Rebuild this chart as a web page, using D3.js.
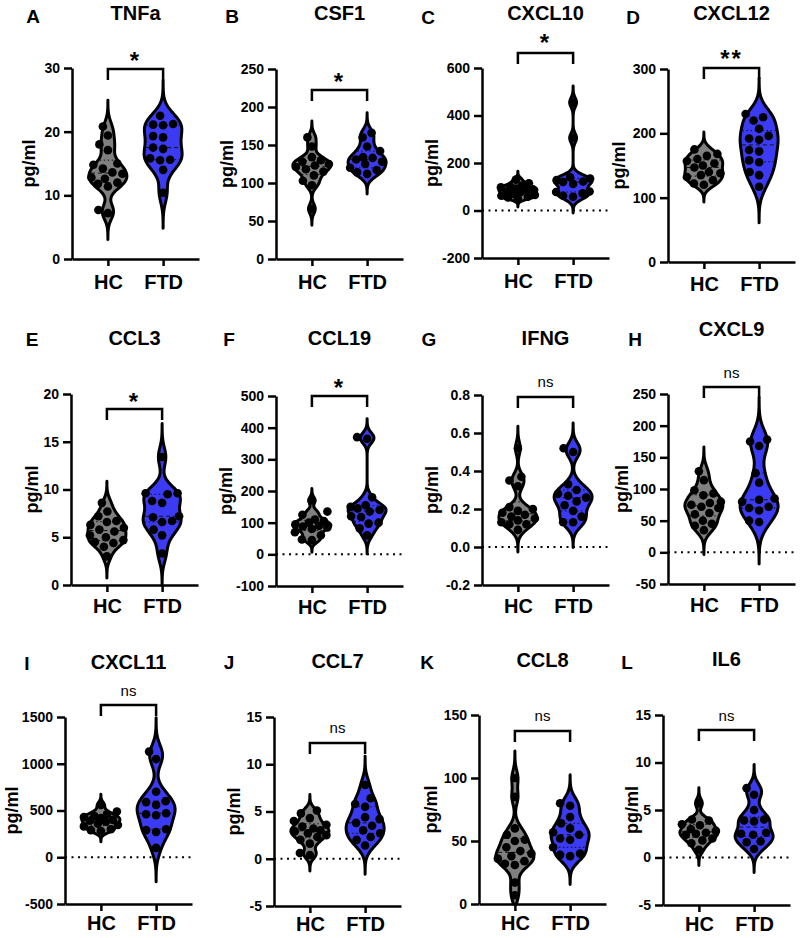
<!DOCTYPE html>
<html>
<head>
<meta charset="utf-8">
<script src="https://cdn.jsdelivr.net/npm/d3@7"></script>
<style>
  body { margin: 0; background: #fff; }
</style>
</head>
<body>
<svg id="chart" width="800" height="938"></svg>
<script>
// Datos
const groups = ['HC', 'FTD'];
const panelLetters = ['A', 'B', 'C', 'D', 'E', 'F', 'G', 'H', 'I', 'J', 'K', 'L'];
const analytes = ['TNFa', 'CSF1', 'CXCL10', 'CXCL12', 'CCL3', 'CCL19', 'IFNG', 'CXCL9', 'CXCL11', 'CCL7', 'CCL8', 'IL6'];
const significance = ['*', '*', '*', '**', '*', '*', 'ns', 'ns', 'ns', 'ns', 'ns', 'ns'];

const yTickValues = [
  [0, 10, 20, 30],
  [0, 50, 100, 150, 200, 250],
  [-200, 0, 200, 400, 600],
  [0, 100, 200, 300],
  [0, 5, 10, 15, 20],
  [-100, 0, 100, 200, 300, 400, 500],
  [-0.2, 0, 0.2, 0.4, 0.6, 0.8],
  [-50, 0, 50, 100, 150, 200, 250],
  [-500, 0, 500, 1000, 1500],
  [-5, 0, 5, 10, 15],
  [0, 50, 100, 150],
  [-5, 0, 5, 10, 15]
];

const hcValues = [
  [20.8, 19.4, 18.0, 17.1, 15.0, 14.8, 14.2, 13.6, 13.4, 12.8, 12.6, 12.0, 11.8, 11.4, 7.7, 7.2],
  [160, 148, 134, 130, 128, 125, 123, 121, 118, 115, 110, 103, 97, 66],
  [130, 115, 105, 100, 98, 92, 88, 85, 80, 78, 70, 65, 62, 58, 55, 50],
  [175, 168, 165, 160, 157, 153, 150, 147, 140, 138, 135, 132, 127, 122, 120],
  [8.6, 7.7, 7.2, 6.7, 6.6, 6.3, 6.0, 5.8, 5.6, 5.2, 5.0, 4.7, 4.5, 4.4, 4.0, 3.0],
  [170, 135, 125, 110, 105, 100, 95, 90, 88, 85, 80, 70, 60, 47, 45],
  [0.52, 0.37, 0.35, 0.32, 0.21, 0.20, 0.19, 0.18, 0.17, 0.16, 0.15, 0.14, 0.13, 0.12, 0.12, 0.09],
  [128, 114, 98, 93, 90, 80, 78, 75, 72, 70, 62, 60, 50, 45, 42, 35],
  [560, 490, 460, 440, 430, 420, 400, 390, 380, 360, 345, 330, 300, 290, 280],
  [5.1, 4.8, 4.3, 4.0, 3.6, 3.4, 3.2, 3.0, 2.9, 2.7, 2.5, 2.3, 2.0, 1.6, 0.6, 0.4],
  [100, 85, 60, 55, 51, 50, 45, 42, 40, 38, 36, 34, 32, 31, 17, 7],
  [5.7, 4.0, 3.9, 3.5, 3.4, 3.0, 2.8, 2.6, 2.5, 2.4, 2.0, 1.8, 1.5, 0.8]
];

const ftdValues = [
  [22.5, 21.2, 21.1, 21.0, 19.3, 19.1, 17.5, 17.3, 15.8, 15.6, 15.5, 14.0, 10.4],
  [166, 160, 148, 142, 134, 133, 131, 128, 125, 120, 117, 114, 112],
  [455, 305, 140, 135, 128, 122, 120, 112, 80, 78, 72, 62, 58],
  [230, 225, 220, 207, 196, 192, 190, 174, 172, 158, 155, 140, 135, 117],
  [13.4, 9.6, 9.6, 9.5, 8.8, 8.6, 7.2, 7.1, 6.7, 6.6, 5.8, 5.2, 3.3],
  [370, 365, 180, 155, 150, 145, 140, 135, 120, 118, 100, 97, 82, 60],
  [0.52, 0.50, 0.33, 0.30, 0.28, 0.27, 0.26, 0.24, 0.22, 0.19, 0.16, 0.13, 0.13],
  [178, 175, 168, 125, 110, 85, 83, 80, 72, 70, 66, 50, 48],
  [1130, 1050, 700, 600, 590, 560, 470, 460, 450, 300, 290, 270, 100],
  [7.8, 6.4, 5.8, 5.5, 4.4, 4.2, 3.8, 3.5, 3.0, 2.7, 2.3, 2.0, 1.4],
  [80, 78, 69, 64, 60, 57, 55, 52, 51, 45, 40, 39, 38],
  [7.3, 6.6, 5.0, 4.0, 3.9, 3.8, 2.6, 2.5, 2.4, 1.7, 1.6, 0.9]
];

// Posiciones de cada panel (px)
const layout = [
  { x0: 72,  top: 68,  bottom: 259, letterX: 33,  letterY: 16,  titleY: 13,  labelX: 30,  bracketY: 69,  sigY: 55,  xPad: 9 },
  { x0: 276, top: 69,  bottom: 259, letterX: 232, letterY: 16,  titleY: 13,  labelX: 228, bracketY: 90,  sigY: 76,  xPad: 9 },
  { x0: 482, top: 68,  bottom: 258, letterX: 428, letterY: 17,  titleY: 13,  labelX: 433, bracketY: 53,  sigY: 37,  xPad: 9 },
  { x0: 668, top: 69,  bottom: 262, letterX: 633, letterY: 17,  titleY: 13,  labelX: 620, bracketY: 68,  sigY: 53,  xPad: 8 },
  { x0: 71,  top: 394, bottom: 585, letterX: 32,  letterY: 339, titleY: 338, labelX: 33,  bracketY: 409, sigY: 396, xPad: 7 },
  { x0: 276, top: 396, bottom: 586, letterX: 229, letterY: 339, titleY: 338, labelX: 227, bracketY: 396, sigY: 382, xPad: 7 },
  { x0: 482, top: 395, bottom: 585, letterX: 429, letterY: 339, titleY: 338, labelX: 433, bracketY: 397, sigY: 383, xPad: 7 },
  { x0: 668, top: 394, bottom: 584, letterX: 635, letterY: 339, titleY: 329, labelX: 623, bracketY: 387, sigY: 374, xPad: 7 },
  { x0: 65,  top: 717, bottom: 904, letterX: 27,  letterY: 663, titleY: 662, labelX: 13,  bracketY: 705, sigY: 692, xPad: 5 },
  { x0: 274, top: 717, bottom: 906, letterX: 229, letterY: 662, titleY: 661, labelX: 235, bracketY: 743, sigY: 729, xPad: 4 },
  { x0: 479, top: 715, bottom: 904, letterX: 427, letterY: 662, titleY: 660, labelX: 432, bracketY: 731, sigY: 717, xPad: 5 },
  { x0: 663, top: 715, bottom: 905, letterX: 627, letterY: 662, titleY: 659, labelX: 633, bracketY: 730, sigY: 717, xPad: 5 }
];

const FONT = 'Arial, "Liberation Sans", Helvetica, sans-serif';
const colores = { HC: '#808080', FTD: '#3b3bf4' };
const anchoEje = 127;
const medioAncho = 19;
const radio = 4.3;

const svg = d3.select('#chart').style('font-family', FONT);
svg.append('rect').attr('width', 800).attr('height', 938).attr('fill', '#fff');

// Ancho de banda (Silverman)
function anchoBanda(vals) {
  const sd = d3.deviation(vals);
  const iqr = d3.quantile(vals, 0.75) - d3.quantile(vals, 0.25);
  const s = Math.min(sd, iqr > 0 ? iqr / 1.34 : sd);
  return 0.9 * s * Math.pow(vals.length, -0.2);
}

// Densidad gaussiana
function densidad(vals, bw, lo, hi) {
  return d3.range(0, 141).map(k => {
    const t = lo + (hi - lo) * k / 140;
    return [t, d3.mean(vals, v => Math.exp(-0.5 * ((t - v) / bw) ** 2))];
  });
}

// Enjambre con límite de ancho (si no cabe, se solapa)
function enjambre(vals, yScale, D, maxOff) {
  const puestos = [];
  const cands = d3.range(-maxOff, maxOff + 0.01, 0.5).sort((a, b) => Math.abs(a) - Math.abs(b));
  return vals.map(v => {
    const py = yScale(v);
    let mejor = 0, mejorDist = -1;
    for (const c of cands) {
      const dmin = puestos.length ? d3.min(puestos, p => Math.hypot(p[0] - c, p[1] - py)) : Infinity;
      if (dmin >= D) { mejor = c; mejorDist = dmin; break; }
      if (dmin > mejorDist + 0.5) { mejor = c; mejorDist = dmin; }
    }
    puestos.push([mejor, py]);
    return [mejor, py, v];
  });
}

analytes.forEach((nombre, i) => {
  const L = layout[i];
  const ticks = yTickValues[i];
  const dom = d3.extent(ticks);
  const y = d3.scaleLinear().domain(dom).range([L.bottom, L.top]);
  const x = d3.scalePoint().domain(groups).range([L.x0, L.x0 + anchoEje]).padding(0.65);
  const g = svg.append('g');
  const fmt = ticks.some(t => !Number.isInteger(t)) ? (d => d3.format('.1f')(d).replace('\u2212', '-')) : (d => String(d));

  // Letra y título
  g.append('text').attr('x', L.letterX).attr('y', L.letterY).attr('dy', '0.36em')
    .attr('text-anchor', 'middle').attr('font-size', 19).attr('font-weight', 'bold').text(panelLetters[i]);
  g.append('text').attr('x', L.x0 + anchoEje / 2).attr('y', L.titleY).attr('dy', '0.36em')
    .attr('text-anchor', 'middle').attr('font-size', 20).attr('font-weight', 'bold').text(nombre);

  // Etiqueta eje y
  g.append('text').attr('transform', `translate(${L.labelX},${(L.top + L.bottom) / 2}) rotate(-90)`)
    .attr('dy', '0.26em').attr('text-anchor', 'middle').attr('font-size', 18).attr('font-weight', 'bold').text('pg/ml');

  // Línea punteada en cero
  if (dom[0] < 0) {
    g.append('line').attr('x1', L.x0).attr('x2', L.x0 + anchoEje).attr('y1', y(0)).attr('y2', y(0))
      .attr('stroke', '#000').attr('stroke-width', 2).attr('stroke-dasharray', '2,4.5');
  }

  // Violines
  [hcValues[i], ftdValues[i]].forEach((datos, gi) => {
    const grupo = groups[gi];
    const cx = x(grupo);
    const vals = datos.slice().sort(d3.ascending);
    const bw = anchoBanda(vals);
    const lo = Math.max(dom[0], vals[0] - 3 * bw);
    const hi = Math.min(dom[1], vals[vals.length - 1] + 3 * bw);
    const dens = densidad(vals, 0.85 * bw, lo, hi);
    const w = d3.scaleLinear().domain([0, d3.max(dens, d => d[1])]).range([0, medioAncho]);

    const area = d3.area()
      .y(d => y(d[0]))
      .x0(d => cx - w(d[1]))
      .x1(d => cx + w(d[1]))
      .curve(d3.curveBasis);

    g.append('path').attr('d', area(dens))
      .attr('fill', colores[grupo]).attr('stroke', '#000').attr('stroke-width', 3).attr('stroke-linejoin', 'round');

    // Mediana y cuartiles
    const anchoEn = t => {
      const k = d3.bisector(d => d[0]).left(dens, t);
      const a = dens[Math.max(0, k - 1)], b = dens[Math.min(dens.length - 1, k)];
      const f = b[0] === a[0] ? 0 : (t - a[0]) / (b[0] - a[0]);
      return w(a[1] + (b[1] - a[1]) * f);
    };
    [[0.25, '1.5,2.5'], [0.5, '4,3'], [0.75, '1.5,2.5']].forEach(([q, dash]) => {
      const t = d3.quantile(vals, q);
      const hw = anchoEn(t) - 1.5;
      g.append('line').attr('x1', cx - hw).attr('x2', cx + hw).attr('y1', y(t)).attr('y2', y(t))
        .attr('stroke', '#111').attr('stroke-width', 1).attr('stroke-dasharray', dash);
    });

    // Puntos
    g.append('g').selectAll('circle').data(enjambre(vals, y, 10, 17)).enter().append('circle')
      .attr('cx', d => cx + d[0]).attr('cy', d => d[1]).attr('r', radio).attr('fill', '#000');
  });

  // Ejes
  const ejeY = g.append('g').attr('transform', `translate(${L.x0},0)`)
    .call(d3.axisLeft(y).tickValues(ticks).tickFormat(fmt).tickSize(8).tickSizeOuter(0).tickPadding(4));
  ejeY.selectAll('path,line').attr('stroke', '#000').attr('stroke-width', 2.5);
  ejeY.selectAll('text').attr('font-size', 14).attr('font-weight', 'bold').attr('font-family', FONT).attr('fill', '#000');

  const ejeX = g.append('g').attr('transform', `translate(0,${L.bottom})`)
    .call(d3.axisBottom(x).tickSize(7).tickSizeOuter(0).tickPadding(L.xPad));
  ejeX.selectAll('path,line').attr('stroke', '#000').attr('stroke-width', 2.5);
  ejeX.selectAll('text').attr('font-size', 20).attr('font-weight', 'bold').attr('font-family', FONT).attr('fill', '#000');

  // Corchete de significancia
  const x1 = x('HC'), x2 = x('FTD');
  g.append('path').attr('d', `M${x1},${L.bracketY + 11}V${L.bracketY}H${x2}V${L.bracketY + 11}`)
    .attr('fill', 'none').attr('stroke', '#000').attr('stroke-width', 2.5);
  const esNs = significance[i] === 'ns';
  g.append('text').attr('x', (x1 + x2) / 2)
    .attr('y', esNs ? L.sigY + 4 : L.sigY + 0.57 * 24)
    .attr('text-anchor', 'middle')
    .attr('font-size', esNs ? 15 : 24)
    .attr('font-weight', esNs ? 'normal' : 'bold')
    .attr('letter-spacing', esNs ? 0 : 2)
    .text(significance[i]);
});
</script>
</body>
</html>
